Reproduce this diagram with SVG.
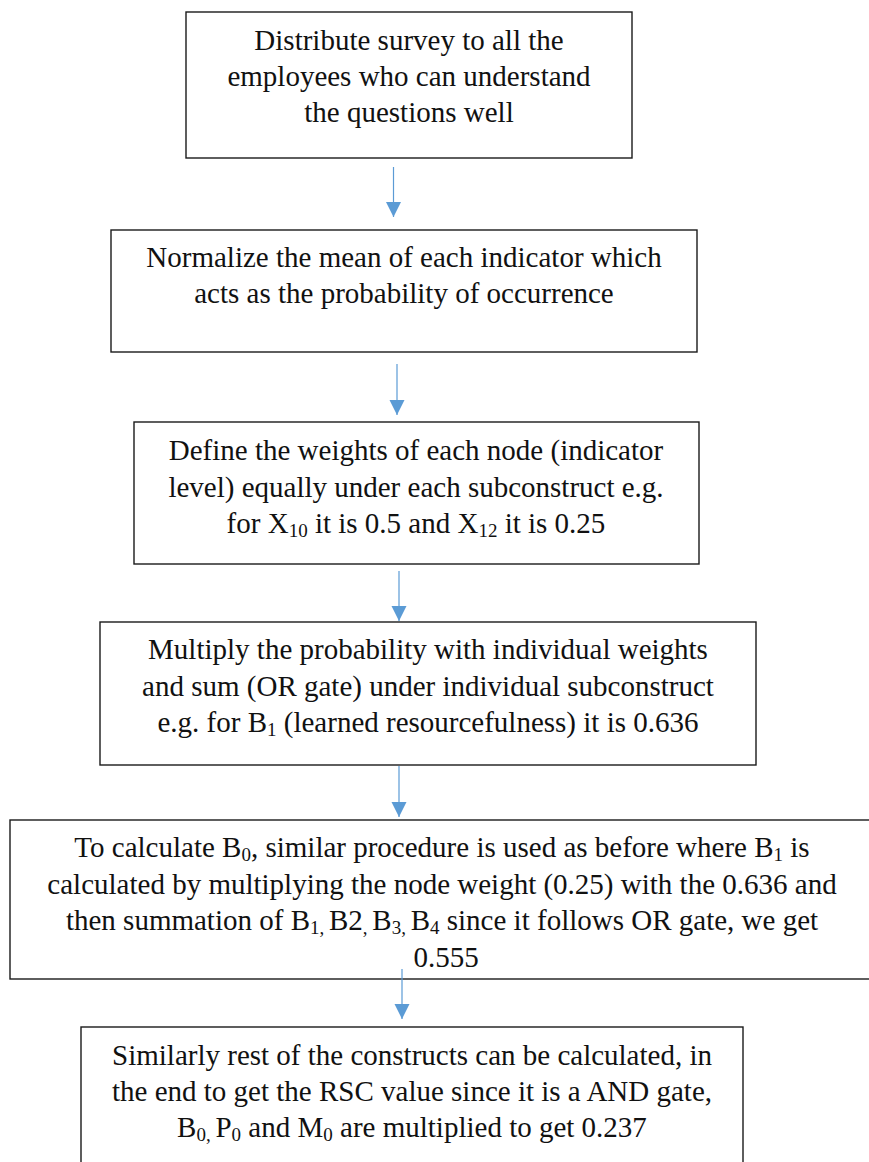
<svg xmlns="http://www.w3.org/2000/svg" width="869" height="1162" viewBox="0 0 869 1162">
<style>
.box{fill:#fff;stroke:#1a1a1a;stroke-width:1.4}
.t{font-family:"Liberation Serif","Times New Roman",serif;font-size:29px;fill:#111;text-anchor:middle}
.s{font-size:19px}
.conn{stroke:#5B9BD5;stroke-width:1.2;fill:none}
</style>
<defs>
<marker id="ah2" markerUnits="userSpaceOnUse" markerWidth="16" markerHeight="16" refX="15" refY="8" orient="auto" viewBox="0 0 16 16">
<path d="M0,0.5 L15,8 L0,15.5 Z" fill="#5B9BD5"/>
</marker>
</defs>
<rect width="869" height="1162" fill="#fff"/>
<g id="connectors">
<line class="conn" x1="393.5" y1="167" x2="393.5" y2="217" marker-end="url(#ah2)"/>
<line class="conn" x1="397" y1="364" x2="397" y2="415" marker-end="url(#ah2)"/>
<line class="conn" x1="399" y1="571" x2="399" y2="621" marker-end="url(#ah2)"/>
<line class="conn" x1="399" y1="766" x2="399" y2="817" marker-end="url(#ah2)"/>
</g>
<g id="node1">
<rect class="box" x="186" y="12" width="446" height="146"/>
<text class="t" x="409" y="50">Distribute survey to all the</text>
<text class="t" x="409" y="86">employees who can understand</text>
<text class="t" x="409" y="122">the questions well</text>
</g>
<g id="node2">
<rect class="box" x="111" y="230" width="586" height="122"/>
<text class="t" x="404" y="267">Normalize the mean of each indicator which</text>
<text class="t" x="404" y="303">acts as the probability of occurrence</text>
</g>
<g id="node3">
<rect class="box" x="134" y="422" width="565" height="142"/>
<text class="t" x="416" y="460">Define the weights of each node (indicator</text>
<text class="t" x="416" y="497">level) equally under each subconstruct e.g.</text>
<text class="t" x="416" y="533">for X<tspan class="s" dy="4">10</tspan><tspan dy="-4"> it is 0.5 and X</tspan><tspan class="s" dy="4">12</tspan><tspan dy="-4"> it is 0.25</tspan></text>
</g>
<g id="node4">
<rect class="box" x="100" y="622" width="656" height="143"/>
<text class="t" x="428" y="659">Multiply the probability with individual weights</text>
<text class="t" x="428" y="696">and sum (OR gate) under individual subconstruct</text>
<text class="t" x="428" y="732">e.g. for B<tspan class="s" dy="4">1</tspan><tspan dy="-4"> (learned resourcefulness) it is 0.636</tspan></text>
</g>
<g id="node5">
<rect class="box" x="10" y="820" width="872" height="159"/>
<text class="t" x="442" y="857">To calculate B<tspan class="s" dy="4">0</tspan><tspan dy="-4">, similar procedure is used as before where B</tspan><tspan class="s" dy="4">1</tspan><tspan dy="-4"> is</tspan></text>
<text class="t" x="442" y="894">calculated by multiplying the node weight (0.25) with the 0.636 and</text>
<text class="t" x="442" y="930">then summation of B<tspan class="s" dy="4">1, </tspan><tspan dy="-4">B2</tspan><tspan class="s" dy="4">, </tspan><tspan dy="-4">B</tspan><tspan class="s" dy="4">3, </tspan><tspan dy="-4">B</tspan><tspan class="s" dy="4">4</tspan><tspan dy="-4"> since it follows OR gate, we get</tspan></text>
<text class="t" x="446" y="967">0.555</text>
</g>
<g id="connectors2">
<line class="conn" x1="402" y1="969" x2="402" y2="1019" marker-end="url(#ah2)"/>
</g>
<g id="node6">
<rect class="box" x="81" y="1027" width="662" height="160"/>
<text class="t" x="412" y="1065">Similarly rest of the constructs can be calculated, in</text>
<text class="t" x="412" y="1101">the end to get the RSC value since it is a AND gate,</text>
<text class="t" x="412" y="1137">B<tspan class="s" dy="4">0, </tspan><tspan dy="-4">P</tspan><tspan class="s" dy="4">0</tspan><tspan dy="-4"> and M</tspan><tspan class="s" dy="4">0</tspan><tspan dy="-4"> are multiplied to get 0.237</tspan></text>
</g>
</svg>
